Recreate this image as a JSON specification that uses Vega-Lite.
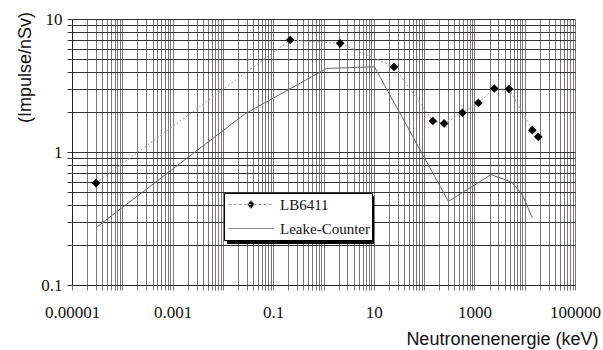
{
  "$schema": "https://vega.github.io/schema/vega-lite/v6.json",
  "width": 503,
  "height": 266,
  "autosize": {"type": "none"},
  "padding": {"left": 72, "top": 19, "right": 28, "bottom": 65},
  "background": "white",
  "data": {
    "values": [
      {"series": "LB6411", "E": 0.00003, "v": 0.584},
      {"series": "LB6411", "E": 0.217, "v": 6.95},
      {"series": "LB6411", "E": 2.14, "v": 6.56},
      {"series": "LB6411", "E": 25.3, "v": 4.37},
      {"series": "LB6411", "E": 149, "v": 1.71},
      {"series": "LB6411", "E": 250, "v": 1.64},
      {"series": "LB6411", "E": 577, "v": 1.97},
      {"series": "LB6411", "E": 1200, "v": 2.34},
      {"series": "LB6411", "E": 2490, "v": 3.0},
      {"series": "LB6411", "E": 4890, "v": 2.97},
      {"series": "LB6411", "E": 14160, "v": 1.46},
      {"series": "LB6411", "E": 18600, "v": 1.3},
      {"series": "Leake-Counter", "E": 0.000032, "v": 0.275},
      {"series": "Leake-Counter", "E": 0.0277, "v": 1.94},
      {"series": "Leake-Counter", "E": 1.16, "v": 4.25},
      {"series": "Leake-Counter", "E": 10.3, "v": 4.37},
      {"series": "Leake-Counter", "E": 304, "v": 0.425},
      {"series": "Leake-Counter", "E": 2140, "v": 0.676},
      {"series": "Leake-Counter", "E": 5520, "v": 0.594},
      {"series": "Leake-Counter", "E": 8970, "v": 0.478},
      {"series": "Leake-Counter", "E": 14160, "v": 0.32}
    ]
  },
  "encoding": {
    "x": {
      "field": "E",
      "type": "quantitative",
      "scale": {"type": "log", "domain": [0.00001, 100000], "nice": false},
      "axis": {
        "values": [0.00001,0.00002,0.00003,0.00004,0.00005,0.00006,0.00007,0.00008,0.00009,
                   0.0001,0.0002,0.0003,0.0004,0.0005,0.0006,0.0007,0.0008,0.0009,
                   0.001,0.002,0.003,0.004,0.005,0.006,0.007,0.008,0.009,
                   0.01,0.02,0.03,0.04,0.05,0.06,0.07,0.08,0.09,
                   0.1,0.2,0.3,0.4,0.5,0.6,0.7,0.8,0.9,
                   1,2,3,4,5,6,7,8,9,
                   10,20,30,40,50,60,70,80,90,
                   100,200,300,400,500,600,700,800,900,
                   1000,2000,3000,4000,5000,6000,7000,8000,9000,
                   10000,20000,30000,40000,50000,60000,70000,80000,90000,
                   100000],
        "grid": true,
        "gridColor": "#7d7678",
        "gridWidth": 1,
        "gridOpacity": 1,
        "ticks": true,
        "tickSize": 5,
        "tickColor": "#7d7678",
        "domain": true,
        "domainColor": "#222222",
        "labelExpr": "datum.value === 0.00001 || datum.value === 0.001 || datum.value === 0.1 || datum.value === 10 || datum.value === 1000 || datum.value === 100000 ? format(datum.value, '.5~f') : ''",
        "labelFont": "Liberation Serif",
        "labelFontSize": 17,
        "labelColor": "#111111",
        "labelPadding": 14,
        "labelOverlap": false,
        "labelFlush": false,
        "title": "Neutronenenergie (keV)",
        "titleFont": "Liberation Sans",
        "titleFontSize": 18,
        "titleFontWeight": "normal",
        "titleColor": "#111111",
        "titleAlign": "right",
        "titleX": 526,
        "titleY": 54,
        "titleBaseline": "middle"
      }
    },
    "y": {
      "field": "v",
      "type": "quantitative",
      "scale": {"type": "log", "domain": [0.1, 10], "nice": false},
      "axis": {
        "values": [0.1,0.2,0.3,0.4,0.5,0.6,0.7,0.8,0.9,1,2,3,4,5,6,7,8,9,10],
        "grid": true,
        "gridColor": "#333333",
        "gridWidth": 1,
        "gridOpacity": 1,
        "ticks": true,
        "tickSize": 5,
        "tickColor": "#333333",
        "domain": true,
        "domainColor": "#222222",
        "labelExpr": "datum.value === 0.1 || datum.value === 1 || datum.value === 10 ? format(datum.value, '.1~f') : ''",
        "labelFont": "Liberation Serif",
        "labelFontSize": 17,
        "labelColor": "#111111",
        "labelPadding": 5,
        "labelOverlap": false,
        "labelFlush": false,
        "title": "(Impulse/nSv)",
        "titleFont": "Liberation Sans",
        "titleFontSize": 18,
        "titleFontWeight": "normal",
        "titleColor": "#111111",
        "titleAngle": -90,
        "titleAlign": "center",
        "titleBaseline": "middle",
        "titleX": -47,
        "titleY": 48
      }
    }
  },
  "layer": [
    {
      "transform": [{"filter": "datum.series === 'LB6411'"}],
      "mark": {"type": "line", "strokeDash": [2, 2], "strokeWidth": 1},
      "encoding": {
        "color": {
          "field": "series",
          "type": "nominal",
          "scale": {"domain": ["LB6411", "Leake-Counter"], "range": ["#a0a0a0", "#666666"]},
          "legend": {
            "orient": "none",
            "legendX": 152,
            "legendY": 174,
            "zindex": 2,
            "title": null,
            "fillColor": "white",
            "strokeColor": "black",
            "padding": 2,
            "symbolOffset": 2,
            "symbolSize": 2025,
            "clipHeight": 19,
            "rowPadding": 5,
            "labelOffset": 6,
            "labelFont": "Liberation Serif",
            "labelFontSize": 15,
            "labelColor": "#111111",
            "labelLimit": 200,
            "encode": {
              "symbols": {
                "update": {
                  "shape": {"signal": "datum.value === 'LB6411' ? 'M-1,0L1,0M0,-0.18L0.16,0L0,0.18L-0.16,0Z' : 'stroke'"},
                  "fill": {"signal": "datum.value === 'LB6411' ? 'black' : 'transparent'"},
                  "stroke": {"signal": "datum.value === 'LB6411' ? '#999999' : '#555555'"},
                  "strokeDash": {"signal": "datum.value === 'LB6411' ? [3, 2] : [1, 0]"},
                  "strokeWidth": {"value": 1},
                  "opacity": {"value": 1}
                }
              }
            }
          }
        }
      }
    },
    {
      "transform": [{"filter": "datum.series === 'Leake-Counter'"}],
      "mark": {"type": "line", "strokeWidth": 1},
      "encoding": {
        "color": {"field": "series", "type": "nominal"},
        "opacity": {
          "field": "series",
          "type": "ordinal",
          "scale": {"domain": ["Leake-Counter", "LB6411"], "range": [1, 1]},
          "legend": {
            "orient": "none",
            "legendX": 155,
            "legendY": 177,
            "zindex": 1,
            "title": null,
            "fillColor": "black",
            "strokeColor": "black",
            "padding": 2,
            "symbolOffset": 2,
            "symbolSize": 2025,
            "clipHeight": 19,
            "rowPadding": 5,
            "labelOffset": 93,
            "labelFont": "Liberation Serif",
            "labelFontSize": 15,
            "labelColor": "black",
            "labelExpr": "''",
            "symbolStrokeColor": "black",
            "symbolFillColor": "black"
          }
        }
      }
    },
    {
      "transform": [{"filter": "datum.series === 'LB6411'"}],
      "mark": {"type": "point", "shape": "diamond", "filled": true, "size": 75, "color": "black", "opacity": 1}
    }
  ]
}
